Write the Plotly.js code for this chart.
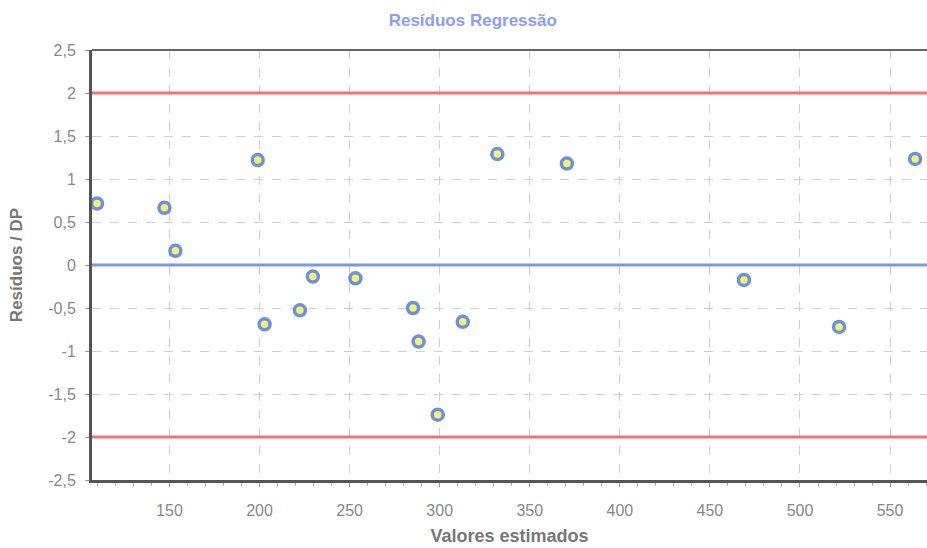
<!DOCTYPE html>
<html><head><meta charset="utf-8">
<script src="https://cdn.plot.ly/plotly-3.0.1.min.js"></script>
<style>body{margin:0;background:#fff}#c{width:927px;height:548px}</style>
</head><body><div id="c"></div>
<script>
const estimados = [109.8,147.2,153.3,199,202.8,222.4,229.6,253.2,285.2,288.3,298.9,312.8,332,370.6,468.9,521.7,563.9];
const residuos  = [0.715,0.665,0.165,1.22,-0.69,-0.527,-0.135,-0.155,-0.5,-0.89,-1.74,-0.66,1.29,1.18,-0.173,-0.72,1.234];
const limites = [2,-2];
const centro = 0;
const xRange = [107,570.5];
const xTicks = [150,200,250,300,350,400,450,500,550];
const yTicks = [-2.5,-2,-1.5,-1,-0.5,0,0.5,1,1.5,2,2.5];

const traces = [
 {x:xRange,y:[limites[0],limites[0]],mode:'lines',line:{color:'#f27373',width:3},hoverinfo:'skip'},
 {x:xRange,y:[limites[1],limites[1]],mode:'lines',line:{color:'#f27373',width:3},hoverinfo:'skip'},
 {x:xRange,y:[centro,centro],mode:'lines',line:{color:'#7898e8',width:3},hoverinfo:'skip'},
 {x:estimados,y:residuos,mode:'markers',marker:{symbol:'circle',size:11,color:'#f0f27a',line:{color:'#6f90da',width:3.5}}}
];
const layout = {
 width:927,height:548,showlegend:false,separators:', ',
 paper_bgcolor:'#fff',plot_bgcolor:'#fff',
 margin:{l:92,r:0,t:50,b:68},
 font:{family:'Liberation Sans, Arial, sans-serif',color:'#777'},
 title:{text:'<b>Resíduos Regressão</b>',x:0.51,xanchor:'center',y:0.963,yanchor:'middle',font:{size:17,color:'#8d9ef0',family:'Liberation Sans, Arial, sans-serif'}},
 xaxis:{range:xRange,tickvals:xTicks,ticktext:xTicks.map(String),showgrid:true,gridcolor:'#cfcfcf',griddash:'dash',gridwidth:1,
   zeroline:false,showline:true,linecolor:'#555',linewidth:3,ticks:'outside',ticklen:4,tickcolor:'#999',ticklabelstandoff:10,
   minor:{dtick:10,ticks:'outside',ticklen:3,tickcolor:'#aaa',showgrid:false},
   tickfont:{size:16,color:'#888'},
   title:{text:'<b>Valores estimados</b>',font:{size:18,color:'#777'},standoff:12}},
 yaxis:{range:[-2.5,2.5],tickvals:yTicks,ticktext:yTicks.map(v=>String(v).replace('.',',')),showgrid:true,gridcolor:'#cfcfcf',griddash:'dash',gridwidth:1,
   zeroline:false,showline:true,linecolor:'#555',linewidth:3,ticks:'outside',ticklen:4,tickcolor:'#999',ticklabelstandoff:6,
   tickfont:{size:16,color:'#888'},
   title:{text:'<b>Resíduos / DP</b>',font:{size:17,color:'#777'},standoff:22}},
 shapes:[{type:'line',xref:'paper',yref:'paper',x0:0,x1:1,y0:1,y1:1,line:{color:'#666',width:2}}]
};
Plotly.newPlot('c',traces,layout,{displayModeBar:false,staticPlot:true});
</script></body></html>
